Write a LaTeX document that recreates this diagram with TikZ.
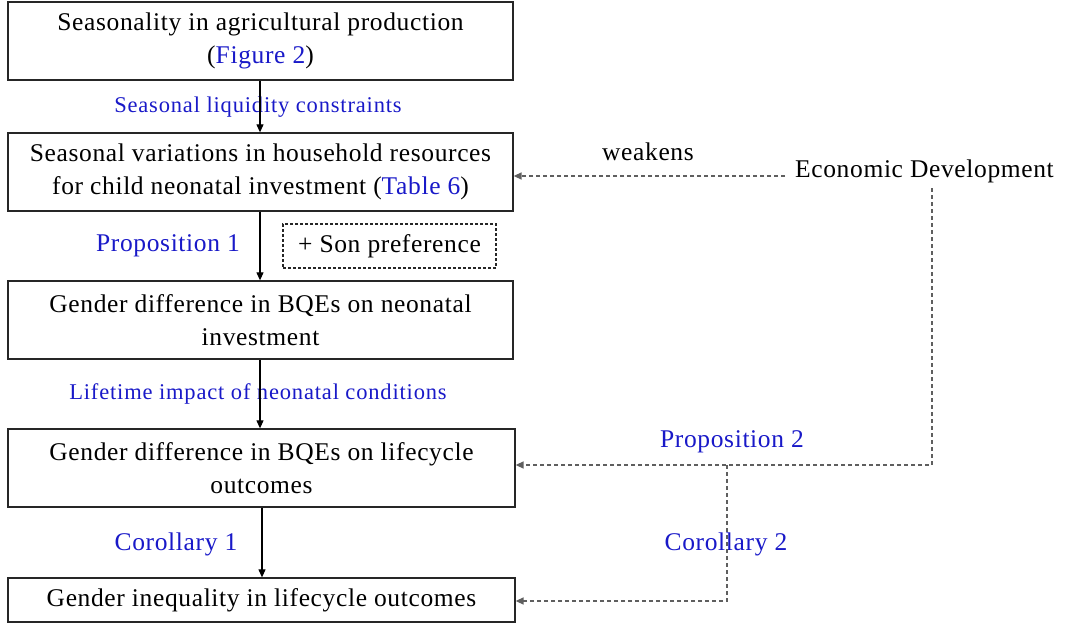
\documentclass[tikz,border=0pt]{standalone}
\usepackage{fontspec}
\setmainfont{Liberation Serif}
\newfontfamily\bigfont[LetterSpace=2.5]{Liberation Serif}
\newfontfamily\smallfont[LetterSpace=3.7]{Liberation Serif}
\usetikzlibrary{arrows.meta}
\definecolor{lblblue}{RGB}{25,25,200}
\definecolor{dashgray}{RGB}{95,95,95}
\begin{document}
\begin{tikzpicture}[x=1pt,y=-1pt,
  box/.style={draw=black!85,line width=1.3pt,minimum height=78pt,align=center,inner sep=0pt,
    font=\bigfont\fontsize{25.5}{33}\selectfont},
  solidarrow/.style={draw=black,line width=1.1pt,-{Triangle[length=8pt,width=7pt]}},
  dasharrow/.style={draw=dashgray,line width=1.5pt,dash pattern=on 4pt off 3pt,-{Triangle[length=8pt,width=7pt]}},
  bluelbl/.style={text=lblblue,font=\smallfont\fontsize{22.5}{26}\selectfont,inner sep=0pt},
  biglbl/.style={text=lblblue,font=\bigfont\fontsize{25.5}{30}\selectfont,inner sep=0pt},
  plainlbl/.style={text=black,font=\bigfont\fontsize{25.5}{30}\selectfont,inner sep=0pt}
]
\useasboundingbox (0,0) rectangle (1068,624);
\node[box,minimum width=505pt] (b1) at (260.5,41) {Seasonality in agricultural production\\(\textcolor{lblblue}{Figure 2})};
\node[box,minimum width=505pt] (b2) at (260.5,172) {Seasonal variations in household resources\\for child neonatal investment (\textcolor{lblblue}{Table 6})};
\node[box,minimum width=505pt] (b3) at (260.5,320) {Gender difference in BQEs on neonatal\\investment};
\node[box,minimum width=507pt] (b4) at (261.5,468) {Gender difference in BQEs on lifecycle\\outcomes};
\node[box,minimum width=507pt,minimum height=44pt] (b5) at (261.5,600) {Gender inequality in lifecycle outcomes};

\node[draw=black!85,line width=1.1pt,dash pattern=on 3pt off 2pt,minimum width=213pt,minimum height=44pt,inner sep=0pt,
  font=\bigfont\fontsize{25.5}{30}\selectfont] (son) at (389.5,246) {+ Son preference};

\node[plainlbl,anchor=west] (ed) at (795,171) {Economic Development};
\node[plainlbl] (wk) at (648,152) {weakens};

\node[bluelbl] (l1) at (258,107) {Seasonal liquidity constraints};
\node[biglbl] (p1) at (168,246) {Proposition 1};
\node[bluelbl] (l2) at (258,394) {Lifetime impact of neonatal conditions};
\node[biglbl] (c1) at (176,544) {Corollary 1};
\node[biglbl] (p2) at (732,442) {Proposition 2};
\node[biglbl] (c2) at (726,544) {Corollary 2};

\draw[solidarrow] (b1.south -| 260,0) -- (b2.north -| 260,0);
\draw[solidarrow] (b2.south -| 260,0) -- (b3.north -| 260,0);
\draw[solidarrow] (b3.south -| 260,0) -- (b4.north -| 260,0);
\draw[solidarrow] (b4.south -| 262,0) -- (b5.north -| 262,0);

\coordinate (edl) at (785,176);
\coordinate (edb) at (932,188);
\coordinate (j1) at (932,465);
\coordinate (j2) at (727,465);
\coordinate (j3) at (727,601);
\draw[dasharrow] (edl) -- (b2.east |- edl);
\draw[dasharrow] (edb) -- (j1) -- (b4.east |- j1);
\draw[dasharrow] (j2) -- (j3) -- (b5.east |- j3);
\end{tikzpicture}
\end{document}
